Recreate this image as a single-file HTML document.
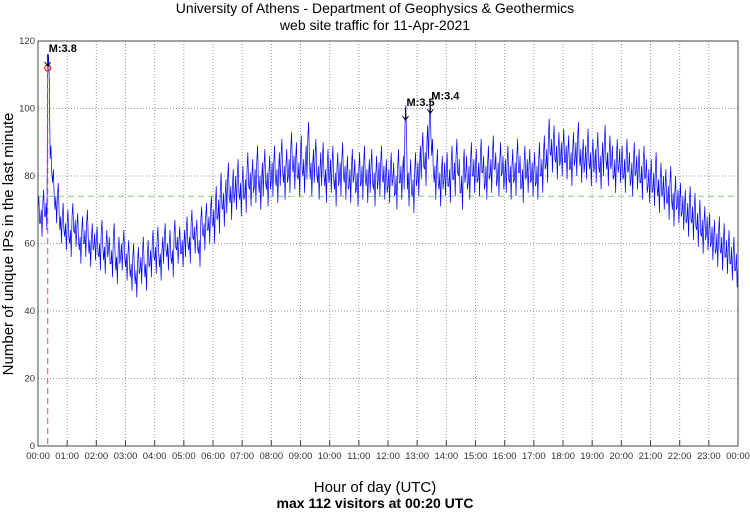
<!DOCTYPE html>
<html><head><meta charset="utf-8"><style>
body{margin:0;background:#fff;width:750px;height:511px;overflow:hidden}
svg{font-family:"Liberation Sans",sans-serif}
</style></head><body>
<svg id="c" width="750" height="511">
<text x="375" y="13" text-anchor="middle" font-size="14">University of Athens - Department of Geophysics &amp; Geothermics</text>
<text x="375" y="30" text-anchor="middle" font-size="14">web site traffic for 11-Apr-2021</text>
<text transform="translate(13,244) rotate(-90)" text-anchor="middle" font-size="15">Number of unique IPs in the last minute</text>
<text x="375" y="492" text-anchor="middle" font-size="15">Hour of day (UTC)</text>
<text x="375" y="508" text-anchor="middle" font-size="14" font-weight="bold">max 112 visitors at 00:20 UTC</text>
<g id="grid"></g><g id="plot"></g><g id="axes"></g>
</svg>
<script>
const yTicks=[0,20,40,60,80,100,120];
const hourLabels=["00:00","01:00","02:00","03:00","04:00","05:00","06:00","07:00","08:00","09:00","10:00","11:00","12:00","13:00","14:00","15:00","16:00","17:00","18:00","19:00","20:00","21:00","22:00","23:00","00:00"];
const traffic=[
70,66,72,68,112,85,78,70,74,64,68,62,
66,60,68,63,65,58,64,60,66,57,62,59,
61,56,63,55,60,58,54,62,52,58,56,60,
53,57,50,56,48,55,52,58,50,57,54,60,
55,61,53,58,62,56,60,54,63,58,61,57,
60,64,58,66,61,63,57,67,62,68,64,70,
65,72,68,76,70,74,79,72,77,75,80,73,
78,74,82,76,80,77,84,75,79,83,76,81,
79,84,77,82,86,78,83,80,88,81,85,79,
87,80,84,91,79,83,86,78,82,85,77,83,
80,84,76,82,79,85,78,81,77,83,80,76,
82,78,84,77,80,83,76,81,79,84,78,80,
77,82,79,75,83,78,81,96,76,80,74,82,
79,84,88,82,90,97,86,78,83,76,81,79,
82,77,84,79,86,80,75,83,81,78,85,80,
83,79,86,81,78,84,80,87,82,79,85,81,
80,84,78,83,79,86,81,77,84,80,83,79,
82,78,85,80,87,83,92,86,90,84,88,85,
89,84,87,82,88,85,91,83,86,84,89,82,
86,83,88,81,85,90,82,87,84,80,86,83,
84,80,86,82,79,85,81,83,78,84,80,77,
80,76,82,74,79,75,77,72,78,70,75,71,
73,69,71,67,72,66,70,64,68,62,66,63,
64,60,62,58,63,57,61,56,59,54,57,52,55];
const hourlySpread=[4,4,4,4,4,4,5,5,5,5,5,5,5,5,5,5,5,5,5,5,5,5,5,5];
const meanLevel=74;
const quakes=[{label:"M:3.8",hour:20/60,value:112},{label:"M:3.5",hour:12.6,value:96},{label:"M:3.4",hour:13.45,value:98}];
const X0=38,X1=738,Y0=446,Y1=41;
const xs=h=>X0+(X1-X0)*h/24;
const ys=v=>Y0-(Y0-Y1)*v/120;
const NS="http://www.w3.org/2000/svg";
function mk(t,a,p){const e=document.createElementNS(NS,t);for(const k in a)e.setAttribute(k,a[k]);p.appendChild(e);return e;}
const grid=document.getElementById('grid'),plot=document.getElementById('plot'),axes=document.getElementById('axes');
hourLabels.forEach((l,i)=>{const x=xs(i);
 if(i>0&&i<24){const g=mk('line',{x1:x,x2:x,y1:Y1,y2:Y0,stroke:'#999','stroke-dasharray':'1,2'},grid);
 
 }
 const t=mk('line',{x1:x,x2:x,y1:Y0,y2:Y0-6,stroke:'#444'},axes);
 
 
 const tx=mk('text',{x:x,y:Y0+13,'text-anchor':'middle','font-size':9.5,fill:'#333'},axes);tx.textContent=l;
 
 
});
yTicks.forEach(v=>{const y=ys(v);
 if(v>0&&v<120){const g=mk('line',{x1:X0,x2:X1,y1:y,y2:y,stroke:'#999','stroke-dasharray':'1,2'},grid);
 
 }
 const tx=mk('text',{x:X0-3,y:y+3,'text-anchor':'end','font-size':9.5,fill:'#333'},axes);tx.textContent=v;
 
 
});
const ml=mk('line',{x1:X0,x2:X1,y1:ys(meanLevel),y2:ys(meanLevel),stroke:'#8c8','stroke-dasharray':'6,4'},grid);


let pts=[];const n=traffic.length-1;
traffic.forEach((v,i)=>{const h=24*i/n;const r=hourlySpread[Math.min(23,Math.floor(h))];
 pts.push(xs(h)+','+ys(v));
 if(i===n)return;
 pts.push(xs(h+24/n*0.33)+','+ys(v+r));
 pts.push(xs(h+24/n*0.66)+','+ys(v-r));
});
const line=mk('polyline',{points:pts.join(' '),fill:'none',stroke:'#0000ff','stroke-width':0.7},plot);


const vx=xs(quakes[0].hour);
const rv=mk('line',{x1:vx,x2:vx,y1:ys(quakes[0].value),y2:Y0,stroke:'#d55','stroke-dasharray':'6,4'},plot);


const rc=mk('circle',{cx:vx,cy:ys(quakes[0].value),r:3,fill:'none',stroke:'#e00'},plot);


quakes.forEach(q=>{const x=xs(q.hour),y=ys(q.value)-2;
 const a=mk('path',{d:`M${x},${y-12}V${y}M${x-3},${y-4}L${x},${y}L${x+3},${y-4}`,stroke:'#000',fill:'none'},plot);
 
 
 const t=mk('text',{x:x+1,y:y-14,'font-size':11,'font-weight':'bold'},plot);t.textContent=q.label;
 
 
});
const fr=mk('rect',{x:X0,y:Y1,width:X1-X0,height:Y0-Y1,fill:'none',stroke:'#444'},axes);


</script>
</body></html>
